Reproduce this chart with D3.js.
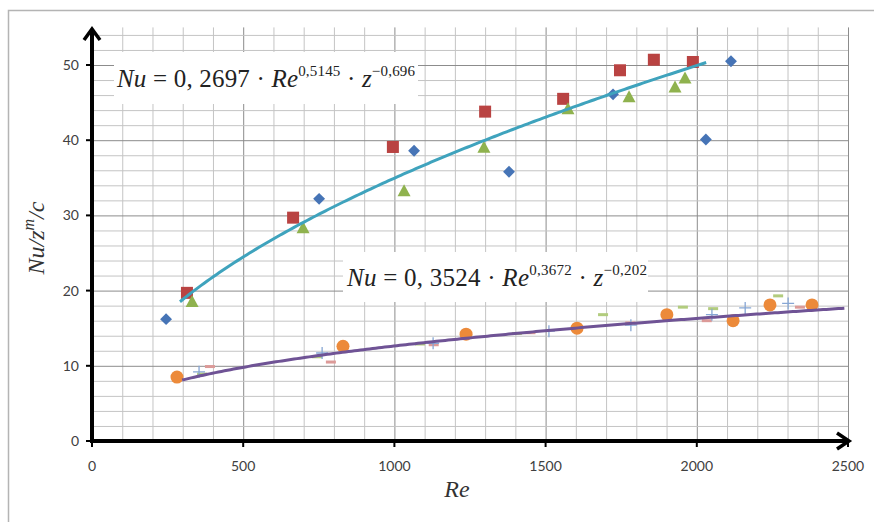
<!DOCTYPE html>
<html>
<head>
<meta charset="utf-8">
<script src="https://cdn.jsdelivr.net/npm/d3@7"></script>
<style>
  body { margin: 0; background: #fff; }
</style>
</head>
<body>
<div id="chart"></div>
<script>
// Data: [Re, Nu/z^m/c]
const upperDiamonds  = [[245, 16.2], [751, 32.2], [1065, 38.6], [1379, 35.8], [1723, 46.1], [2030, 40.1], [2113, 50.5]];
const upperSquares   = [[314, 19.7], [665, 29.7], [995, 39.1], [1300, 43.8], [1558, 45.5], [1746, 49.3], [1858, 50.7], [1987, 50.4]];
const upperTriangles = [[331, 18.5], [698, 28.3], [1032, 33.2], [1296, 39.0], [1574, 44.1], [1776, 45.7], [1928, 47.0], [1961, 48.2]];

const lowerCircles   = [[281, 8.5], [830, 12.6], [1237, 14.2], [1604, 15.0], [1901, 16.8], [2120, 16.0], [2242, 18.1], [2381, 18.1]];
const lowerPlus      = [[354, 9.2], [761, 11.7], [1128, 13.0], [1511, 14.6], [1782, 15.4], [2050, 16.8], [2160, 17.7], [2302, 18.3]];
const lowerGreenDash = [[364, 8.9], [744, 11.2], [1085, 12.9], [1405, 14.3], [1690, 16.8], [1954, 17.8], [2054, 17.6], [2269, 19.3]];
const lowerPinkDash  = [[390, 9.9], [790, 10.5], [1130, 12.8], [1450, 14.4], [1780, 15.7], [2033, 16.0], [2341, 17.8]];

// Trend lines: Nu/z^m/c = Re^b (b from the equations), drawn over [ReStart, ReEnd]
const upperFit = { b: 0.5145, range: [291, 2037] };
const lowerFit = { b: 0.3672, range: [298, 2490] };

const xTicks = [0, 500, 1000, 1500, 2000, 2500];
const yTicks = [0, 10, 20, 30, 40, 50];

const width = 874, height = 522;

const svg = d3.select("#chart").append("svg")
  .attr("width", width)
  .attr("height", height)
  .style("font-family", "Lato, 'Open Sans', sans-serif");

// outer chart border
svg.append("rect")
  .attr("x", 8.5).attr("y", 10.5)
  .attr("width", 880).attr("height", 530)
  .attr("fill", "#fff")
  .attr("stroke", "#b4b4b4")
  .attr("stroke-width", 1.5);

const x = d3.scaleLinear().domain([0, 2500]).range([92, 848]);
const y = d3.scaleLinear().domain([0, 50]).range([441, 65]);
const yTop = y(55);

// 1. grid
const grid = svg.append("g");
grid.selectAll(".vg")
  .data(d3.range(100, 2501, 100))
  .enter().append("line")
  .attr("x1", d => x(d) + 0.5).attr("x2", d => x(d) + 0.5)
  .attr("y1", yTop).attr("y2", y(0))
  .attr("stroke", d => d % 500 === 0 ? "#8c8c8c" : "#c4c4c4")
  .attr("stroke-width", 1);

grid.selectAll(".hg")
  .data(d3.range(2, 55, 2))
  .enter().append("line")
  .attr("x1", x(0)).attr("x2", x(2500))
  .attr("y1", d => y(d) + 0.5).attr("y2", d => y(d) + 0.5)
  .attr("stroke", d => d % 10 === 0 ? "#8c8c8c" : "#c4c4c4")
  .attr("stroke-width", 1);

// 2. equation boxes (white, hide grid)
function equation(bx, by, bw, bh, tx, ty, tw, coef, expRe, expZ) {
  svg.append("rect")
    .attr("x", bx).attr("y", by).attr("width", bw).attr("height", bh)
    .attr("fill", "#fff");
  const t = svg.append("text")
    .attr("x", tx).attr("y", ty)
    .attr("textLength", tw).attr("lengthAdjust", "spacing")
    .style("font-family", "'Liberation Serif', 'DejaVu Serif', serif")
    .style("font-size", "25px")
    .attr("fill", "#222");
  t.append("tspan").style("font-style", "italic").text("Nu");
  t.append("tspan").text(" = " + coef + " · ");
  t.append("tspan").style("font-style", "italic").text("Re");
  t.append("tspan").attr("dy", -11).style("font-size", "15px").text(expRe);
  t.append("tspan").attr("dy", 11).text(" · ");
  t.append("tspan").style("font-style", "italic").text("z");
  t.append("tspan").attr("dy", -11).style("font-size", "15px").text(expZ);
}
equation(114, 52, 304, 52, 117, 87, 298, "0, 2697", "0,5145", "−0,696");
equation(343, 252, 305, 50, 347, 286, 300, "0, 3524", "0,3672", "−0,202");

// 3. trend lines
function fitLine(fit, color) {
  const pts = d3.range(fit.range[0], fit.range[1] + 1, 10).map(r => [r, Math.pow(r, fit.b)]);
  svg.append("path")
    .datum(pts)
    .attr("d", d3.line().x(d => x(d[0])).y(d => y(d[1])))
    .attr("fill", "none")
    .attr("stroke", color)
    .attr("stroke-width", 3);
}

// 4. markers
const marks = svg.append("g");

function drawDashes(data, color) {
  marks.selectAll(null).data(data).enter().append("rect")
    .attr("x", d => x(d[0]) - 5).attr("y", d => y(d[1]) - 1.5)
    .attr("width", 10).attr("height", 3)
    .attr("fill", color);
}
function drawPlus(data, color) {
  marks.selectAll(null).data(data).enter().append("path")
    .attr("d", d => {
      const cx = x(d[0]), cy = y(d[1]);
      return `M${cx - 6},${cy}H${cx + 6}M${cx},${cy - 6}V${cy + 6}`;
    })
    .attr("stroke", color).attr("stroke-width", 1.3).attr("fill", "none");
}

drawDashes(lowerPinkDash, "#dc9a98");
drawDashes(lowerGreenDash, "#b2cc7e");
drawPlus(lowerPlus, "#86a6d4");

fitLine(upperFit, "#3fa3bd");
fitLine(lowerFit, "#6f5395");

marks.selectAll(".dia").data(upperDiamonds).enter().append("rect")
  .attr("x", -4.2).attr("y", -4.2).attr("width", 8.4).attr("height", 8.4)
  .attr("transform", d => `translate(${x(d[0])},${y(d[1])}) rotate(45)`)
  .attr("fill", "#4674b6");

marks.selectAll(".sq").data(upperSquares).enter().append("rect")
  .attr("x", d => x(d[0]) - 6).attr("y", d => y(d[1]) - 6)
  .attr("width", 12).attr("height", 12)
  .attr("fill", "#b94342");

marks.selectAll(".tri").data(upperTriangles).enter().append("path")
  .attr("d", d => {
    const cx = x(d[0]), cy = y(d[1]);
    return `M${cx},${cy - 7}L${cx + 6.5},${cy + 5}L${cx - 6.5},${cy + 5}Z`;
  })
  .attr("fill", "#8fb24e");

marks.selectAll(".circ").data(lowerCircles).enter().append("circle")
  .attr("cx", d => x(d[0])).attr("cy", d => y(d[1]))
  .attr("r", 6.5)
  .attr("fill", "#ec8a3a");

// 5. axes with arrows
const axisColor = "#000";
svg.append("line")
  .attr("x1", x(0)).attr("x2", 849)
  .attr("y1", y(0)).attr("y2", y(0))
  .attr("stroke", axisColor).attr("stroke-width", 4);
svg.append("path")
  .attr("d", `M${837},${y(0) - 8}L${849},${y(0)}L${837},${y(0) + 8}`)
  .attr("fill", "none").attr("stroke", axisColor).attr("stroke-width", 3.5);

svg.append("line")
  .attr("x1", x(0)).attr("x2", x(0))
  .attr("y1", y(0) + 2).attr("y2", 29)
  .attr("stroke", axisColor).attr("stroke-width", 4);
svg.append("path")
  .attr("d", `M${x(0) - 8},${40}L${x(0)},${29}L${x(0) + 8},${40}`)
  .attr("fill", "none").attr("stroke", axisColor).attr("stroke-width", 3.5);

// ticks
svg.selectAll(".yt").data(yTicks).enter().append("line")
  .attr("x1", x(0) - 6).attr("x2", x(0))
  .attr("y1", d => y(d)).attr("y2", d => y(d))
  .attr("stroke", axisColor).attr("stroke-width", 2);
svg.selectAll(".xt").data(xTicks).enter().append("line")
  .attr("x1", d => x(d)).attr("x2", d => x(d))
  .attr("y1", y(0)).attr("y2", y(0) + 6)
  .attr("stroke", axisColor).attr("stroke-width", 2);

svg.selectAll(".ytl").data(yTicks).enter().append("text")
  .attr("x", 79).attr("y", d => y(d) + 5)
  .attr("text-anchor", "end")
  .style("font-size", "14px").attr("fill", "#404040")
  .text(d => d);
svg.selectAll(".xtl").data(xTicks).enter().append("text")
  .attr("x", d => x(d)).attr("y", 471)
  .attr("text-anchor", "middle")
  .style("font-size", "14px").attr("fill", "#404040")
  .text(d => d);

// axis titles
svg.append("text")
  .attr("x", 457).attr("y", 497)
  .attr("text-anchor", "middle")
  .style("font-family", "'Liberation Serif', serif")
  .style("font-style", "italic").style("font-size", "24px")
  .attr("fill", "#333")
  .text("Re");

const yl = svg.append("text")
  .attr("transform", "translate(44,238) rotate(-90)")
  .attr("text-anchor", "middle")
  .style("font-family", "'Liberation Serif', serif")
  .style("font-style", "italic").style("font-size", "24px")
  .attr("fill", "#333");
yl.append("tspan").text("Nu/z");
yl.append("tspan").attr("dy", -10).style("font-size", "16px").text("m");
yl.append("tspan").attr("dy", 10).text("/c");
</script>
</body>
</html>
